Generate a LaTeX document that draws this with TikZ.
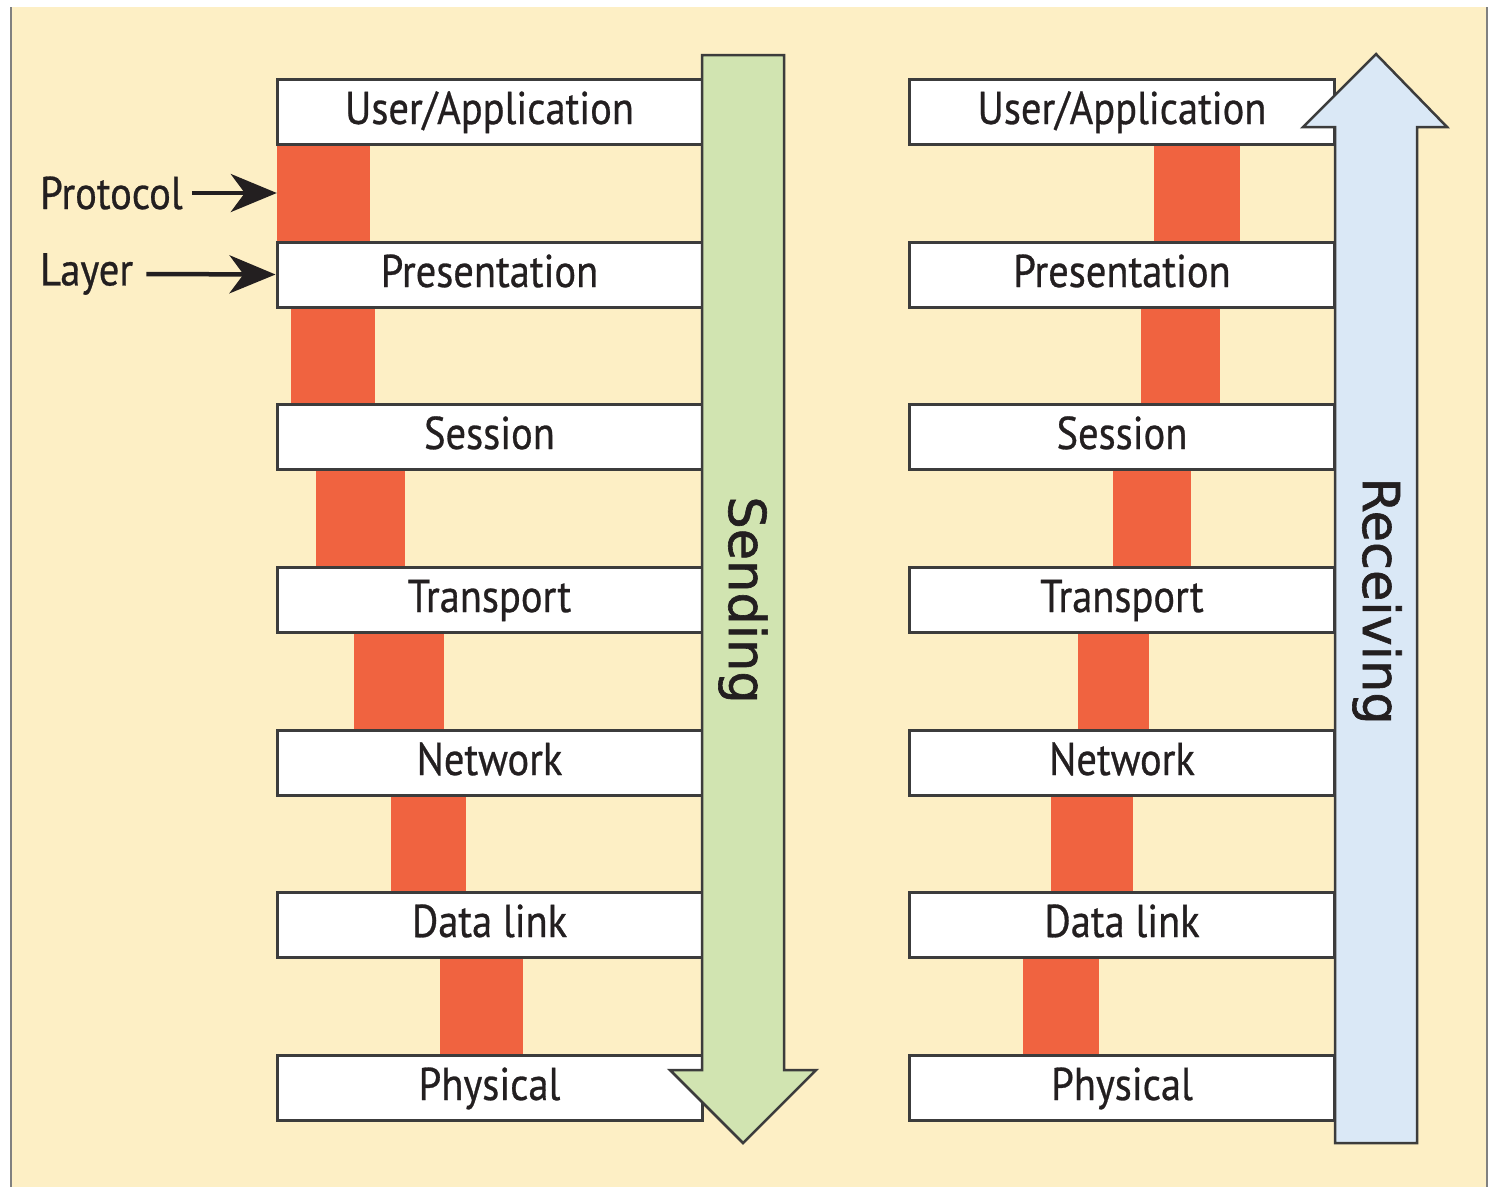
\documentclass[tikz,border=0pt]{standalone}
\usepackage{fontspec}
\setmainfont[FakeStretch=0.88,FakeBold=0.6]{PT Sans}
\newfontfamily\arrowfont[FakeBold=1.2]{DejaVu Sans}
\usetikzlibrary{arrows.meta}
\definecolor{bgyellow}{RGB}{253,239,197}
\definecolor{protored}{RGB}{240,99,64}
\definecolor{sendgreen}{RGB}{209,228,177}
\definecolor{recvblue}{RGB}{218,232,246}
\definecolor{edgegray}{RGB}{60,60,60}
\definecolor{inkblack}{RGB}{35,31,32}
\tikzset{
  layerbox/.style={draw=edgegray, line width=3pt, fill=white, minimum width=425pt, minimum height=65pt,
    inner sep=0pt, text height=34pt, text depth=9pt, text=inkblack,
    font=\fontsize{46}{48}\selectfont},
  protobar/.style={fill=protored, draw=none, inner sep=0pt},
  bigarrow/.style={draw=edgegray, line width=2.5pt, line join=miter},
  sidelabel/.style={text=inkblack, font=\fontsize{46}{48}\selectfont, inner sep=0pt, anchor=west},
  pointer/.style={line width=4.5pt, draw=inkblack, -{Stealth[length=46pt,width=38pt,inset=14pt]}},
  dirlabel/.style={text=inkblack, font=\arrowfont\fontsize{51}{54}\selectfont, rotate=-90, inner sep=0pt}
}
\begin{document}
\begin{tikzpicture}[x=1pt,y=-1pt]
\useasboundingbox (0,0) rectangle (1489,1187);
% background
\fill[bgyellow] (11,7) rectangle (1487,1187);
\draw[line width=2.5pt, draw=gray] (11,7) -- (11,1187);
\draw[line width=2.5pt, draw=gray] (1487,7) -- (1487,1187);

% ---- left stack (sending)
\node[protobar, minimum width=93pt, minimum height=98pt] (lp1) at (323.5,193) {};
\node[protobar, minimum width=84pt, minimum height=97pt] (lp2) at (333,355.5) {};
\node[protobar, minimum width=89pt, minimum height=98pt] (lp3) at (360.5,518) {};
\node[protobar, minimum width=90pt, minimum height=98pt] (lp4) at (399,681) {};
\node[protobar, minimum width=75pt, minimum height=97pt] (lp5) at (428.5,843.5) {};
\node[protobar, minimum width=83pt, minimum height=98pt] (lp6) at (481.5,1006) {};

\node[layerbox] (l1) at (489.5,111.5) {User/Application};
\node[layerbox] (l2) at (489.5,274.5) {Presentation};
\node[layerbox] (l3) at (489.5,436.5) {Session};
\node[layerbox] (l4) at (489.5,599.5) {Transport};
\node[layerbox] (l5) at (489.5,762.5) {Network};
\node[layerbox] (l6) at (489.5,924.5) {Data link};
\node[layerbox] (l7) at (489.5,1087.5) {Physical};

% sending arrow
\filldraw[bigarrow, fill=sendgreen] (702,55) -- (784,55) -- (784,1070) -- (816,1070) -- (743,1143)
  -- (670,1070) -- (702,1070) -- cycle;
\node[dirlabel] (send) at (743,600) {Sending};

% ---- right stack (receiving)
\node[protobar, minimum width=86pt, minimum height=98pt] (rp1) at (1197,193) {};
\node[protobar, minimum width=79pt, minimum height=97pt] (rp2) at (1180.5,355.5) {};
\node[protobar, minimum width=78pt, minimum height=98pt] (rp3) at (1152,518) {};
\node[protobar, minimum width=71pt, minimum height=98pt] (rp4) at (1113.5,681) {};
\node[protobar, minimum width=82pt, minimum height=97pt] (rp5) at (1092,843.5) {};
\node[protobar, minimum width=76pt, minimum height=98pt] (rp6) at (1061,1006) {};

\node[layerbox] (r1) at (1122,111.5) {User/Application};
\node[layerbox] (r2) at (1122,274.5) {Presentation};
\node[layerbox] (r3) at (1122,436.5) {Session};
\node[layerbox] (r4) at (1122,599.5) {Transport};
\node[layerbox] (r5) at (1122,762.5) {Network};
\node[layerbox] (r6) at (1122,924.5) {Data link};
\node[layerbox] (r7) at (1122,1087.5) {Physical};

% receiving arrow
\filldraw[bigarrow, fill=recvblue] (1335,1143) -- (1417,1143) -- (1417,127) -- (1447,127) -- (1376,54)
  -- (1303,127) -- (1335,127) -- cycle;
\node[dirlabel] (recv) at (1377,601) {Receiving};

% ---- side labels
\node[sidelabel] (protocol) at (40,193) {Protocol};
\node[sidelabel] (layer) at (40,274) {Layer};
\coordinate (pstart) at ([xshift=9pt]protocol.east);
\coordinate (lstart) at ([xshift=13pt]layer.east);
\draw[pointer] (pstart) -- (lp1.west);
\draw[pointer] (lstart) -- (l2.west);
\end{tikzpicture}
\end{document}
